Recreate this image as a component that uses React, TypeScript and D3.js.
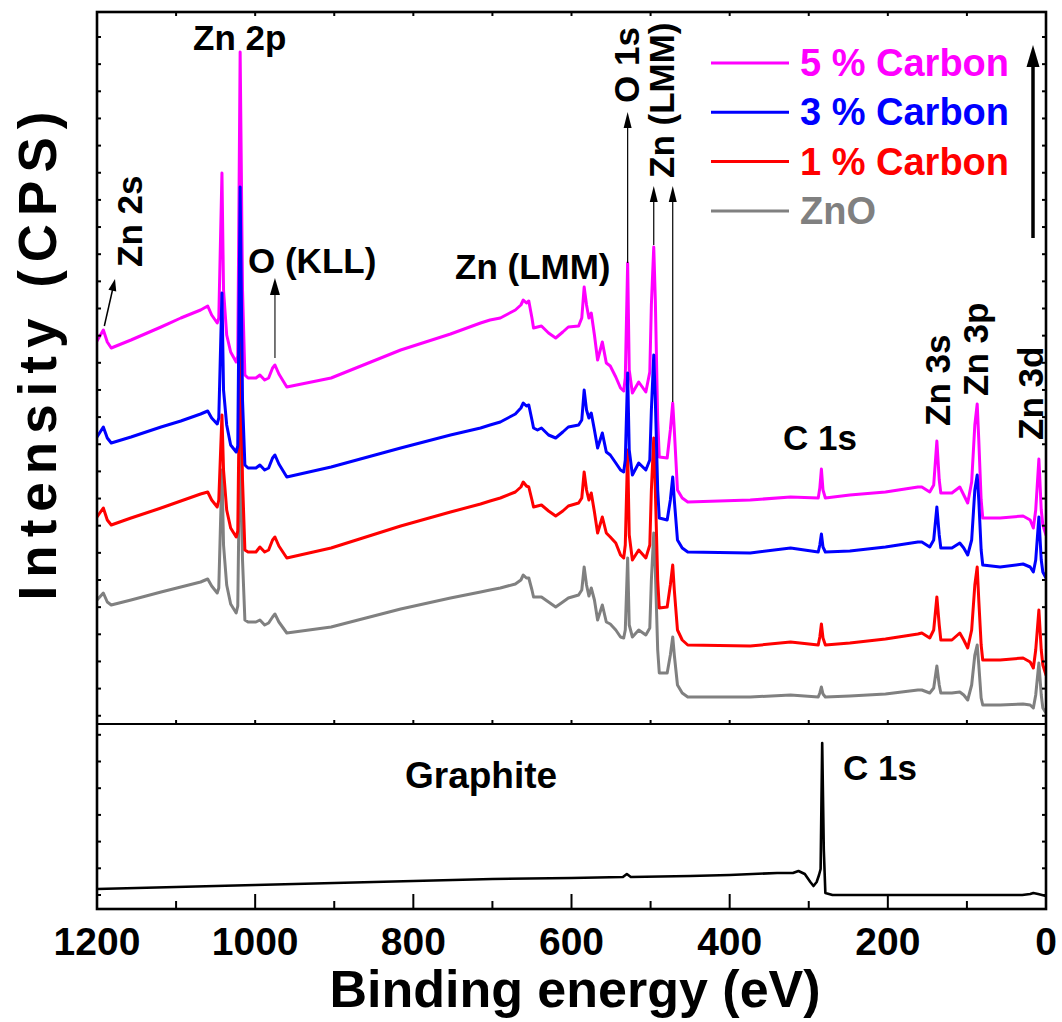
import React from 'react';
import * as d3 from 'd3';

// Shared binding-energy grid (eV) for the ZnO / C-doped ZnO survey spectra
const energies = [
  1200, 1192, 1187, 1182, 1157, 1119, 1094, 1069, 1060, 1055,
  1048, 1046, 1042, 1040, 1036, 1031, 1024, 1022, 1019, 1016,
  1013, 1009, 999, 994, 988, 983, 978, 975, 970, 960,
  904, 816, 753, 715, 703, 690, 671, 664, 661, 657,
  654, 650, 648, 643, 638, 629, 620, 611, 604, 591,
  587, 584, 581, 578, 575, 571, 567, 561, 556, 551,
  544, 538, 534, 532, 529, 527, 523, 515, 506, 501,
  499, 496, 494, 491, 489, 479, 475, 472, 470, 466,
  460, 453, 374, 323, 288, 286, 284, 282, 279, 248,
  203, 162, 157, 147, 142, 138, 135, 133, 119, 109,
  104, 99, 94, 90, 87, 85, 82, 80, 58, 29,
  20, 16, 13, 9, 6, 4, 0,
];

// Stacked intensities (a.u., offset for display)
const znO = [
  124, 131, 122, 119, 124, 132, 137, 142, 145, 138,
  131, 136, 254, 179, 139, 120, 111, 118, 304, 164,
  104, 102, 102, 104, 99, 101, 107, 110, 102, 91,
  97, 115, 126, 132, 134, 136, 140, 144, 149, 146,
  146, 134, 127, 127, 127, 122, 117, 122, 126, 129,
  134, 157, 139, 128, 136, 124, 104, 119, 102, 100,
  94, 87, 86, 94, 166, 99, 87, 94, 89, 96,
  144, 191, 154, 74, 51, 51, 69, 87, 69, 39,
  31, 27, 27, 29, 27, 31, 37, 30, 27, 28,
  30, 34, 34, 31, 36, 58, 39, 31, 31, 32,
  29, 24, 39, 69, 79, 59, 26, 19, 19, 20,
  19, 16, 29, 61, 29, 16, 11,
];

const carbon1 = [
  207, 216, 204, 199, 206, 216, 223, 230, 232, 224,
  217, 224, 309, 254, 214, 196, 187, 193, 394, 244,
  174, 172, 172, 177, 172, 174, 184, 187, 178, 166,
  176, 198, 212, 220, 223, 226, 232, 237, 242, 238,
  237, 224, 217, 218, 219, 213, 208, 213, 218, 221,
  226, 252, 234, 224, 231, 212, 191, 207, 191, 187,
  181, 169, 166, 179, 274, 189, 164, 174, 166, 179,
  234, 286, 234, 144, 116, 117, 139, 159, 134, 94,
  84, 79, 78, 82, 79, 87, 100, 86, 79, 81,
  85, 90, 91, 86, 94, 127, 99, 84, 84, 91,
  84, 76, 94, 139, 157, 124, 79, 64, 64, 66,
  62, 56, 74, 114, 74, 59, 49,
];

const carbon3 = [
  287, 297, 286, 281, 287, 297, 303, 310, 313, 306,
  300, 306, 431, 334, 299, 279, 272, 278, 537, 324,
  259, 256, 256, 259, 254, 256, 266, 269, 260, 247,
  257, 276, 289, 296, 299, 302, 310, 316, 321, 318,
  319, 304, 296, 294, 296, 289, 286, 292, 297, 299,
  304, 334, 314, 306, 311, 294, 276, 291, 272, 269,
  261, 254, 252, 264, 351, 274, 249, 261, 254, 264,
  314, 369, 324, 234, 206, 204, 224, 247, 224, 184,
  176, 172, 171, 176, 172, 179, 190, 177, 172, 173,
  177, 182, 182, 177, 184, 217, 189, 176, 176, 181,
  176, 169, 184, 234, 249, 224, 174, 159, 157, 160,
  157, 152, 164, 207, 164, 152, 146,
];

const carbon5 = [
  383, 394, 382, 376, 384, 397, 406, 414, 418, 409,
  401, 406, 551, 434, 389, 372, 362, 368, 672, 434,
  349, 346, 346, 349, 344, 346, 356, 359, 350, 337,
  346, 374, 390, 401, 404, 406, 414, 419, 424, 421,
  423, 406, 396, 397, 398, 391, 386, 392, 397, 398,
  406, 437, 419, 406, 411, 389, 364, 382, 361, 358,
  347, 336, 333, 346, 461, 354, 331, 342, 332, 352,
  419, 477, 424, 304, 267, 266, 294, 321, 294, 234,
  226, 222, 224, 227, 226, 236, 255, 234, 226, 229,
  232, 237, 237, 232, 239, 283, 244, 231, 231, 237,
  229, 221, 242, 299, 320, 284, 224, 206, 206, 208,
  204, 196, 214, 265, 214, 199, 189,
];

// Graphite reference spectrum (lower panel)
const graphiteEnergies = [
  1200, 1100, 1000, 900, 800, 700, 600, 535, 530, 525,
  450, 400, 340, 320, 313, 305, 298, 294, 290, 287,
  285, 283, 281, 279, 270, 200, 100, 30, 20, 16,
  10, 0,
];
const graphite = [
  20, 22, 24, 26, 28, 30, 31, 32, 35, 32,
  33, 34, 36, 36, 38, 35, 27, 23, 27, 34,
  40, 166, 60, 16, 14, 14, 14, 14, 15, 16,
  15, 13,
];

const legendLabels = ['5 % Carbon', '3 % Carbon', '1 % Carbon', 'ZnO'];
const legendColors = ['#ff00ff', '#0000ff', '#ff0000', '#808080'];
const xMajorTicks = [1200, 1000, 800, 600, 400, 200, 0];
const xMinorTicks = [1100, 900, 700, 500, 300, 100];

const FONT = "'Liberation Sans', Arial, Helvetica, sans-serif";

type ArrowProps = {
  x1: number; y1: number; x2: number; y2: number;
  len: number; width: number; stroke: string; sw: number;
};

function Arrow({ x1, y1, x2, y2, len, width, stroke, sw }: ArrowProps) {
  const dx = x2 - x1, dy = y2 - y1;
  const d = Math.hypot(dx, dy);
  const ux = dx / d, uy = dy / d;
  const bx = x2 - ux * len, by = y2 - uy * len;
  const px = -uy, py = ux;
  const pts = [
    [x2, y2],
    [bx + px * width / 2, by + py * width / 2],
    [bx - px * width / 2, by - py * width / 2],
  ].map(p => p.join(',')).join(' ');
  return (
    <g>
      <line x1={x1} y1={y1} x2={bx + ux * 2} y2={by + uy * 2} stroke={stroke} strokeWidth={sw} />
      <polygon points={pts} fill="#000" />
    </g>
  );
}

function VText({ x, y, text, size = 35 }: { x: number; y: number; text: string; size?: number }) {
  return (
    <text transform={`translate(${x},${y}) rotate(-90)`} fontSize={size} fontWeight="bold"
      fontFamily={FONT} fill="#000">{text}</text>
  );
}

export default function App() {
  const W = 1062, H = 1022;
  const left = 97, right = 1046, top = 12, mid = 724, bottom = 909;

  const x = d3.scaleLinear().domain([1200, 0]).range([left, right]);
  const yTop = d3.scaleLinear().domain([0, 712]).range([mid, top]);
  const yBot = d3.scaleLinear().domain([0, 185]).range([bottom, mid]);

  const stackLine = d3.line<number>()
    .x((_, i) => x(energies[i]))
    .y(d => yTop(d));
  const graphiteLine = d3.line<number>()
    .x((_, i) => x(graphiteEnergies[i]))
    .y(d => yBot(d));

  // drawing order: ZnO, 1 %, 5 %, 3 %
  const drawn = [
    { data: znO, color: '#808080' },
    { data: carbon1, color: '#ff0000' },
    { data: carbon5, color: '#ff00ff' },
    { data: carbon3, color: '#0000ff' },
  ];

  const topTicks = d3.range(687, 0, -27.15);
  const botTicks = d3.range(14, 185, 26.7);
  const allX = d3.range(0, 1201, 100);

  const pk = (arr: number[], e: number) => arr[energies.indexOf(e)];

  return (
    <svg width={W} height={H} style={{ position: 'absolute', left: 0, top: 0, background: '#fff' }}
      xmlns="http://www.w3.org/2000/svg">
      <rect x={0} y={0} width={W} height={H} fill="#fff" />
      <defs>
        <clipPath id="clipTop"><rect x={left} y={top} width={right - left} height={mid - top} /></clipPath>
        <clipPath id="clipBot"><rect x={left} y={mid} width={right - left} height={bottom - mid} /></clipPath>
      </defs>

      {/* spectra */}
      <g clipPath="url(#clipTop)">
        {drawn.map((s, i) => (
          <path key={i} d={stackLine(s.data) || ''} fill="none" stroke={s.color}
            strokeWidth={3} strokeLinejoin="round" strokeLinecap="round" />
        ))}
      </g>
      <g clipPath="url(#clipBot)">
        <path d={graphiteLine(graphite) || ''} fill="none" stroke="#000" strokeWidth={2.6}
          strokeLinejoin="round" />
      </g>

      {/* ticks */}
      <g stroke="#000" strokeWidth={2}>
        {xMajorTicks.map(v => (
          <line key={'M' + v} x1={x(v)} x2={x(v)} y1={bottom} y2={bottom - 15} />
        ))}
        {xMinorTicks.map(v => (
          <line key={'m' + v} x1={x(v)} x2={x(v)} y1={bottom} y2={bottom - 8} />
        ))}
        {allX.map(v => (
          <line key={'t' + v} x1={x(v)} x2={x(v)} y1={top} y2={top + 4} />
        ))}
        {allX.map(v => (
          <line key={'s' + v} x1={x(v)} x2={x(v)} y1={mid} y2={mid - 4} />
        ))}
        {topTicks.map((v, i) => (
          <g key={'yt' + i}>
            <line x1={left} x2={left + 4} y1={yTop(v)} y2={yTop(v)} />
            <line x1={right} x2={right - 4} y1={yTop(v)} y2={yTop(v)} />
          </g>
        ))}
        {botTicks.map((v, i) => (
          <g key={'yb' + i}>
            <line x1={left} x2={left + 4} y1={yBot(v)} y2={yBot(v)} />
            <line x1={right} x2={right - 4} y1={yBot(v)} y2={yBot(v)} />
          </g>
        ))}
      </g>

      {/* frame */}
      <rect x={left} y={top} width={right - left} height={bottom - top} fill="none" stroke="#000" strokeWidth={2.6} />
      <line x1={left} x2={right} y1={mid} y2={mid} stroke="#000" strokeWidth={2.2} />

      {/* tick labels */}
      {xMajorTicks.map(v => (
        <text key={'l' + v} x={x(v)} y={955} textAnchor="middle" fontSize={39} fontWeight="bold"
          fontFamily={FONT} fill="#000">{v}</text>
      ))}

      {/* axis titles */}
      <text x={575} y={1007} textAnchor="middle" fontSize={52} fontWeight="bold" fontFamily={FONT}
        fill="#000">Binding energy (eV)</text>
      <text transform={`translate(56,352) rotate(-90)`} textAnchor="middle" fontSize={53}
        fontWeight="bold" fontFamily={FONT} letterSpacing={8} fill="#000">Intensity (CPS)</text>

      {/* legend */}
      {legendLabels.map((lab, i) => (
        <g key={lab}>
          <line x1={711} x2={789} y1={63 + i * 49.3} y2={63 + i * 49.3} stroke={legendColors[i]} strokeWidth={3} />
          <text x={800} y={76 + i * 49.3} fontSize={38} fontWeight="bold" fontFamily={FONT}
            fill={legendColors[i]}>{lab}</text>
        </g>
      ))}

      {/* peak annotations */}
      <text x={193} y={50} fontSize={35} fontWeight="bold" fontFamily={FONT}>Zn 2p</text>
      <text x={248} y={273} fontSize={35} fontWeight="bold" fontFamily={FONT}>O (KLL)</text>
      <text x={455} y={279} fontSize={35} fontWeight="bold" fontFamily={FONT}>Zn (LMM)</text>
      <text x={783} y={450} fontSize={35} fontWeight="bold" fontFamily={FONT}>C 1s</text>
      <VText x={142} y={267} text="Zn 2s" />
      <VText x={639} y={103} text="O 1s" />
      <VText x={674} y={178} text="Zn (LMM)" />
      <VText x={950} y={426} text="Zn 3s" />
      <VText x={988} y={396} text="Zn 3p" />
      <VText x={1043} y={440} text="Zn 3d" />
      <text x={405} y={788} fontSize={37} fontWeight="bold" fontFamily={FONT}>Graphite</text>
      <text x={843} y={780} fontSize={35} fontWeight="bold" fontFamily={FONT}>C 1s</text>

      {/* arrows */}
      <Arrow x1={x(1192) + 1} y1={yTop(pk(carbon5, 1192)) - 4} x2={115} y2={279} len={12} width={8} stroke="#000" sw={1.5} />
      <Arrow x1={x(975)} y1={yTop(pk(carbon5, 975)) - 7} x2={x(975)} y2={278} len={17} width={10} stroke="#555" sw={1.6} />
      <Arrow x1={x(529)} y1={yTop(pk(carbon5, 529))} x2={x(529)} y2={112} len={16} width={8} stroke="#000" sw={1.2} />
      <Arrow x1={x(496)} y1={yTop(pk(carbon5, 496)) - 2} x2={x(496)} y2={186} len={16} width={8} stroke="#000" sw={1.2} />
      <Arrow x1={x(472)} y1={yTop(pk(carbon5, 472)) - 1} x2={x(472)} y2={186} len={16} width={8} stroke="#000" sw={1.2} />
      <Arrow x1={1033} y1={238} x2={1033} y2={45} len={22} width={13} stroke="#000" sw={3.5} />
    </svg>
  );
}
